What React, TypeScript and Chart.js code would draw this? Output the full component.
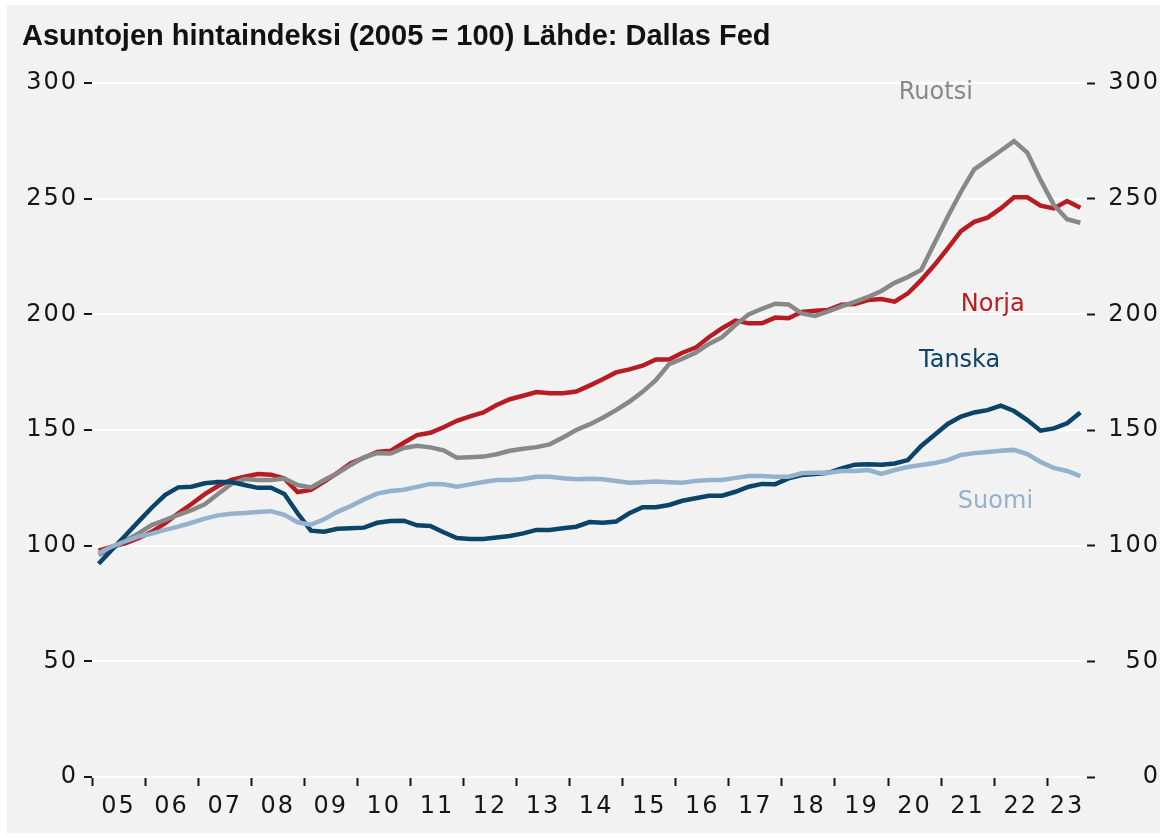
import React, { useEffect, useRef } from 'react';
import { Chart, registerables } from 'chart.js';

Chart.register(...registerables);

const TITLE = 'Asuntojen hintaindeksi (2005 = 100) Lähde: Dallas Fed';
const FIRST_YEAR = 2005;

// Quarterly house price index, 2005Q1 .. 2023Q3 (2005 = 100)
const ruotsi = [
  96, 98.8, 102, 105.3, 108.9, 111.1, 113.3, 115.4, 117.9, 122.3, 126.7, 128.8, 128.4, 128.4, 129, 126.2,
  125.2, 128.4, 131.3, 134.9, 138.2, 140, 139.8, 142.2, 143.2, 142.5, 141.2, 138, 138.2, 138.5, 139.5, 141,
  141.9, 142.6, 143.8, 146.8, 150, 152.4, 155.3, 158.6, 162.2, 166.5, 171.5, 178.5, 180.8, 183.4, 187.2, 190.1,
  195.4, 200, 202.4, 204.6, 204.3, 200.4, 199.3, 201.3, 203.4, 205.4, 207.5, 210.1, 213.6, 216.1, 219.2, 230.7,
  242.2, 253, 262.7, 266.7, 270.7, 274.9, 269.9, 258, 247.3, 241.1, 239.6,
];
const norja = [
  97.8, 99.6, 101, 103.2, 106, 109.6, 114, 118, 122.3, 125.8, 128.4, 129.8, 131, 130.7, 129, 123.2,
  124.1, 127.7, 131.5, 135.6, 138, 140.5, 141, 144.5, 147.8, 148.8, 151.2, 154, 155.9, 157.6, 160.8, 163.3,
  164.8, 166.4, 165.9, 165.9, 166.6, 169.2, 171.9, 174.9, 176.2, 177.8, 180.5, 180.5, 183.4, 185.6, 190.1, 194,
  197.3, 196.1, 196.1, 198.6, 198.3, 201, 201.6, 201.9, 204.2, 204.5, 206.2, 206.6, 205.5, 209.1, 214.8, 221.3,
  228.5, 236, 240, 241.8, 245.8, 250.6, 250.6, 247, 245.8, 249, 246.1,
];
const tanska = [
  92.2, 98.3, 104.3, 110.4, 116.4, 121.9, 125.2, 125.5, 127, 127.5, 127.5, 126.2, 125, 125, 122.3, 114,
  106.5, 106, 107.3, 107.5, 107.8, 109.9, 110.7, 110.8, 108.8, 108.5, 105.8, 103.3, 102.9, 102.9, 103.5, 104.2,
  105.3, 106.8, 106.8, 107.5, 108.2, 110.2, 109.9, 110.4, 114, 116.6, 116.6, 117.6, 119.4, 120.5, 121.6, 121.6,
  123.3, 125.5, 126.7, 126.6, 129.1, 130.5, 131, 131.5, 133.4, 135, 135.2, 135, 135.5, 137, 143.1, 147.8,
  152.6, 155.8, 157.6, 158.6, 160.5, 158.2, 154.3, 149.7, 150.7, 152.9, 157.6,
];
const suomi = [
  96.7, 99.6, 101.9, 103.9, 105.2, 106.8, 108.2, 109.9, 111.7, 113.1, 113.8, 114.1, 114.6, 114.9, 113.3, 110.1,
  109.1, 111.4, 114.6, 117.1, 120, 122.5, 123.6, 124.2, 125.4, 126.7, 126.5, 125.5, 126.5, 127.5, 128.4, 128.4,
  128.8, 129.8, 129.8, 129.1, 128.7, 128.9, 128.7, 128, 127.2, 127.4, 127.7, 127.4, 127.2, 128, 128.4, 128.4,
  129.3, 130.1, 130.1, 129.8, 129.8, 131.3, 131.5, 131.5, 132.3, 132.3, 132.7, 131, 132.7, 134, 134.9, 135.7,
  137, 139.2, 140, 140.5, 141, 141.4, 139.6, 136.2, 133.6, 132.3, 130.1,
];

const yTickValues = [0, 50, 100, 150, 200, 250, 300];

const seriesNames = ['Ruotsi', 'Norja', 'Tanska', 'Suomi'];
const seriesColors = ['#888888', '#b71c22', '#0b4468', '#94b1cd'];
const seriesOrder = [2, 3, 1, 0];
const seriesValues = [ruotsi, norja, tanska, suomi];

// in-chart series labels, in data units (quarter index, index value)
const labelX = [63.6, 67.9, 65.4, 68.1];
const labelY = [293.1, 201.6, 177.2, 116.3];

// categories: quarters
const quarters = ruotsi.map((_, i) => `${FIRST_YEAR + Math.floor(i / 4)}Q${(i % 4) + 1}`);
const years = Array.from(new Set(quarters.map((q) => q.slice(0, 4))));
const yearLabels = years.map((y) => y.slice(2));
const yearStarts = years.map((y) => quarters.findIndex((q) => q.startsWith(y)));
const yearCenters = years.map((y) => {
  const idx = quarters.map((q, i) => (q.startsWith(y) ? i : -1)).filter((i) => i >= 0);
  return (idx[0] + idx[idx.length - 1] + 1) / 2;
});

const TICK_FONT = { family: '"DejaVu Sans", sans-serif', size: 24, weight: 'normal' as const };
const INK = '#161616';

const textPlugin = {
  id: 'textPlugin',
  beforeUpdate(chart: any) {
    chart.ctx.letterSpacing = '2px';
  },
  beforeDraw(chart: any) {
    chart.ctx.letterSpacing = '2px';
  },
  afterDatasetsDraw(chart: any) {
    const ctx = chart.ctx;
    const xs = chart.scales.x;
    const ys = chart.scales.y;
    ctx.save();
    ctx.letterSpacing = '0px';
    ctx.font = '24px "DejaVu Sans", sans-serif';
    ctx.textAlign = 'center';
    ctx.textBaseline = 'alphabetic';
    seriesNames.forEach((name, k) => {
      ctx.fillStyle = seriesColors[k];
      ctx.fillText(name, xs.getPixelForValue(labelX[k]), ys.getPixelForValue(labelY[k]));
    });
    ctx.restore();
  },
  afterDraw(chart: any) {
    const ctx = chart.ctx;
    ctx.save();
    ctx.letterSpacing = '0px';
    ctx.font = 'bold 29px "Liberation Sans", Arial, sans-serif';
    ctx.fillStyle = '#111111';
    ctx.textAlign = 'left';
    ctx.textBaseline = 'alphabetic';
    ctx.fillText(TITLE, 15, 40);
    ctx.restore();
  },
};

export default function App() {
  const canvasRef = useRef<HTMLCanvasElement | null>(null);

  useEffect(() => {
    const canvas = canvasRef.current;
    if (!canvas) return;
    const datasets = seriesNames.map((name, k) => ({
      label: name,
      data: seriesValues[k].map((v, i) => ({ x: i + 0.5, y: v })),
      borderColor: seriesColors[k],
      backgroundColor: seriesColors[k],
      borderWidth: 4.5,
      pointRadius: 0,
      tension: 0,
      fill: false,
      order: seriesOrder[k],
    }));

    const chart = new Chart(canvas, {
      type: 'line',
      data: { datasets },
      plugins: [textPlugin],
      options: {
        responsive: false,
        animation: false,
        devicePixelRatio: 1,
        layout: { padding: { top: 78, left: 0, right: 0, bottom: 0 } },
        plugins: {
          legend: { display: false },
          tooltip: { enabled: false },
          title: { display: false },
        },
        scales: {
          x: {
            type: 'linear',
            position: 'bottom',
            min: 0,
            max: quarters.length,
            weight: 0,
            afterBuildTicks: (s: any) => {
              s.ticks = yearStarts.map((v) => ({ value: v }));
            },
            afterFit: (s: any) => {
              s.height = 10;
            },
            ticks: { display: false },
            grid: {
              display: true,
              drawOnChartArea: false,
              drawTicks: true,
              tickLength: 9,
              tickColor: INK,
              tickWidth: 2,
            },
            border: { display: false },
          },
          x2: {
            type: 'linear',
            position: 'bottom',
            min: 0,
            max: quarters.length,
            weight: 1,
            afterBuildTicks: (s: any) => {
              s.ticks = yearCenters.map((v) => ({ value: v }));
            },
            afterFit: (s: any) => {
              s.height = 46;
            },
            ticks: {
              autoSkip: false,
              maxRotation: 0,
              minRotation: 0,
              padding: -3,
              font: TICK_FONT,
              color: INK,
              callback: (_v: any, i: number) => yearLabels[i],
            },
            grid: { display: false },
            border: { display: false },
          },
          y: {
            position: 'left',
            min: 0,
            max: 300,
            afterBuildTicks: (s: any) => {
              s.ticks = yTickValues.map((v) => ({ value: v }));
            },
            afterFit: (s: any) => {
              s.width = 85;
            },
            ticks: {
              padding: 6,
              font: TICK_FONT,
              color: INK,
              callback: (v: any) => String(v),
            },
            grid: {
              color: '#ffffff',
              lineWidth: 2,
              drawTicks: true,
              tickLength: 8,
              tickColor: INK,
              tickWidth: 2,
            },
            border: { display: false },
          },
          y2: {
            position: 'right',
            min: 0,
            max: 300,
            afterBuildTicks: (s: any) => {
              s.ticks = yTickValues.map((v) => ({ value: v }));
            },
            afterFit: (s: any) => {
              s.width = 73;
            },
            ticks: {
              padding: 6,
              crossAlign: 'far',
              font: TICK_FONT,
              color: INK,
              callback: (v: any) => String(v),
            },
            grid: {
              drawOnChartArea: false,
              drawTicks: true,
              tickLength: 8,
              tickColor: INK,
              tickWidth: 2,
            },
            border: { display: false },
          },
        },
      } as any,
    });
    return () => chart.destroy();
  }, []);

  return (
    <div
      style={{
        position: 'absolute',
        left: 7,
        top: 5,
        width: 1153,
        height: 828,
        background: '#f2f2f2',
      }}
    >
      <canvas ref={canvasRef} width={1153} height={828} style={{ display: 'block' }} />
    </div>
  );
}
